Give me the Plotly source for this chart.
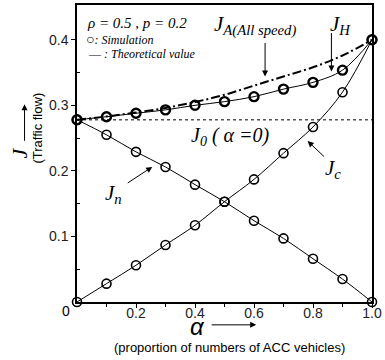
import plotly.graph_objects as go

alpha = [0.0, 0.1, 0.2, 0.3, 0.4, 0.5, 0.6, 0.7, 0.8, 0.9, 1.0]
J_A = [0.278, 0.283, 0.289, 0.296, 0.305, 0.316, 0.330, 0.344, 0.358, 0.376, 0.400]
J_H = [0.278, 0.2826, 0.2879, 0.293, 0.300, 0.3056, 0.3132, 0.3247, 0.335, 0.3536, 0.400]
J_c = [0.0, 0.028, 0.056, 0.087, 0.117, 0.153, 0.187, 0.227, 0.267, 0.320, 0.400]
J_n = [0.278, 0.255, 0.229, 0.206, 0.179, 0.153, 0.124, 0.097, 0.066, 0.035, 0.0]
J_0 = 0.278
x_ticks = [0.2, 0.4, 0.6, 0.8, 1.0]
x_ticklabels = ["0.2", "0.4", "0.6", "0.8", "1.0"]
y_ticks = [0.1, 0.2, 0.3, 0.4]
y_ticklabels = ["0.1", "0.2", "0.3", "0.4"]

W, H = 385, 360
ML, MR, MT, MB = 77, 10, 3, 58
PW, PH = W - ML - MR, H - MT - MB
YMAX = 0.453

def px(xp, yp):
    return (xp - ML) / PW, (H - MB - yp) / PH

SERIF = "Liberation Serif"
SANS = "Liberation Sans"

fig = go.Figure()

# J0 dotted
fig.add_trace(go.Scatter(x=[alpha[0], alpha[-1]], y=[J_0, J_0], mode="lines",
                         line=dict(color="#555", width=1.5, dash="dot"), showlegend=False, cliponaxis=False))
# J_A dash-dot
fig.add_trace(go.Scatter(x=alpha, y=J_A, mode="lines", line_shape="spline",
                         line=dict(color="black", width=2, dash="9px,3px,2px,3px"), showlegend=False, cliponaxis=False))
# theoretical lines
for ys in (J_H, J_c, J_n):
    fig.add_trace(go.Scatter(x=alpha, y=ys, mode="lines", line_shape="spline",
                             line=dict(color="black", width=1), showlegend=False, cliponaxis=False))
# simulation markers
fig.add_trace(go.Scatter(x=alpha, y=J_H, mode="markers",
                         marker=dict(symbol="circle-open", size=9, color="black", line=dict(width=2.4)),
                         showlegend=False, cliponaxis=False))
for ys in (J_c, J_n):
    fig.add_trace(go.Scatter(x=alpha, y=ys, mode="markers",
                             marker=dict(symbol="circle-open", size=9, color="black", line=dict(width=1.6)),
                             showlegend=False, cliponaxis=False))

anns = []
def text(xp, yp, t, size, family=SERIF, xanchor="center", yanchor="middle", angle=0):
    x, y = px(xp, yp)
    anns.append(dict(x=x, y=y, xref="paper", yref="paper", text=t, showarrow=False,
                     font=dict(size=size, family=family, color="black"),
                     xanchor=xanchor, yanchor=yanchor, textangle=angle))

def arrow(hx, hy, tx, ty):
    x, y = px(hx, hy)
    anns.append(dict(x=x, y=y, xref="paper", yref="paper", text="", showarrow=True,
                     ax=tx - hx, ay=ty - hy, arrowhead=2, arrowsize=1.2, arrowwidth=1,
                     arrowcolor="black", standoff=0, startstandoff=0))

text(85, 21, "<i>ρ = 0.5 , p = 0.2</i>", 15, xanchor="left")
text(84, 37, "<span style='font-family:Liberation Sans;font-size:14px'>○</span><i>: Simulation</i>", 12, xanchor="left")
text(86, 52, "— <i>: Theoretical value</i>", 12, xanchor="left")

text(213, 24, "<i>J</i><sub><i>A(All speed)</i></sub>", 21, xanchor="left")
text(331, 23, "<i>J</i><sub><i>H</i></sub>", 21, xanchor="left")
arrow(267, 75, 267, 40)
arrow(334, 70, 334, 30)
text(190, 135, "<i>J</i><sub><i>0</i></sub><i> ( α =0)</i>", 20, xanchor="left")
text(326, 168, "<i>J</i><sub><i>c</i></sub>", 21, xanchor="left")
arrow(310, 140, 328, 157)
text(103, 193, "<i>J</i><sub><i>n</i></sub>", 21, xanchor="left")
arrow(153, 166, 127, 183)

# axis titles
text(18, 152, "<i>J</i>", 22, angle=-90)
arrow(24, 103, 24, 141)
text(37, 127, "(Traffic flow)", 13, family=SANS, angle=-90)
text(199, 327, "<i>α</i>", 24, family=SANS)
arrow(258, 325, 212, 325)
text(231, 348, "(proportion of numbers of ACC vehicles)", 13, family=SANS)
text(66, 311, "0", 14, family=SANS)

fig.update_layout(
    width=W, height=H, margin=dict(l=ML, r=MR, t=MT, b=MB),
    paper_bgcolor="white", plot_bgcolor="white", annotations=anns,
    xaxis=dict(range=[0, 1.0], showgrid=False, zeroline=False, showline=True, mirror=True,
               linecolor="black", linewidth=1.5, ticks="outside", ticklen=4, tickcolor="black",
               ticklabelstandoff=-7,
               tickvals=x_ticks, ticktext=x_ticklabels, tickfont=dict(family=SANS, size=14, color="#222"),
               minor=dict(tickvals=[0.1, 0.3, 0.5, 0.7, 0.9], ticks="outside", ticklen=3, tickcolor="black")),
    yaxis=dict(range=[0, YMAX], showgrid=False, zeroline=False, showline=True, mirror=True,
               linecolor="black", linewidth=1.5, ticks="outside", ticklen=4, tickcolor="black",
               tickvals=y_ticks, ticktext=y_ticklabels, tickfont=dict(family=SANS, size=14, color="#222"),
               minor=dict(tickvals=[0.05, 0.15, 0.25, 0.35], ticks="inside", ticklen=3, tickcolor="black")),
)

fig.write_html("out.html", config={"displayModeBar": False},
               post_script="document.body.style.margin='0px';document.body.style.padding='0px';")
